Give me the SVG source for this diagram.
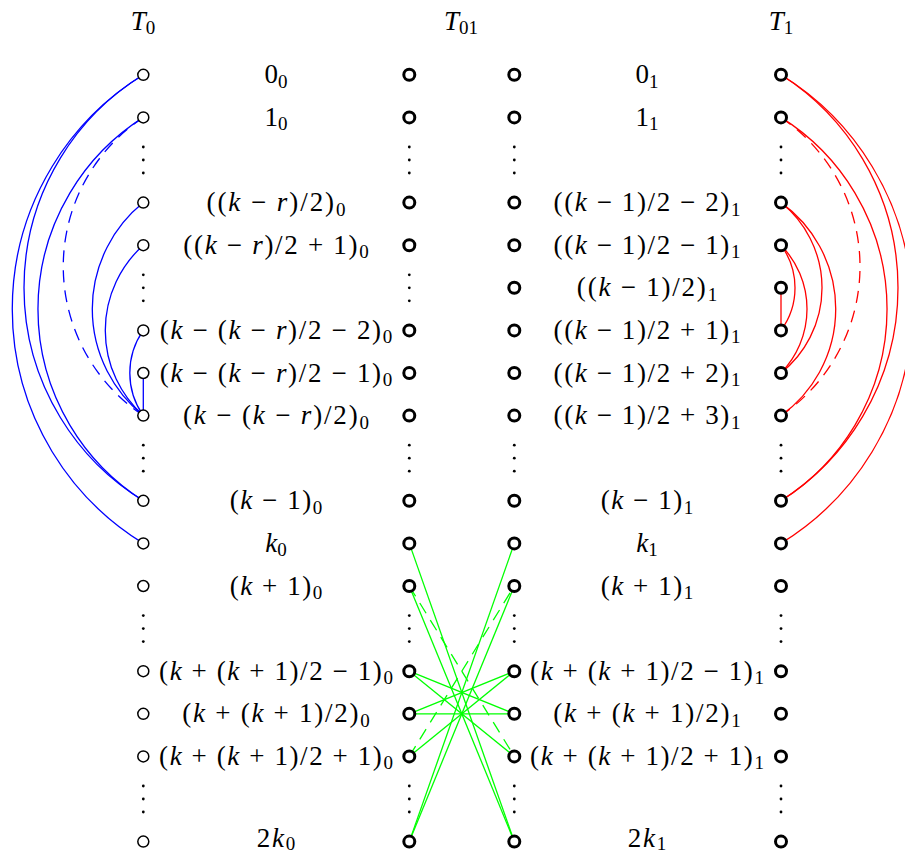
<svg xmlns="http://www.w3.org/2000/svg" width="905" height="854" viewBox="0 0 905 854">
<style>
text{font-family:"Liberation Serif","Times New Roman",serif;font-size:27px;fill:#000;text-anchor:middle}
.i{font-style:italic}
.s{font-size:19px;font-style:normal}
.c path{fill:none;stroke-width:1.3}
.b path{stroke:#0000ff}
.r path{stroke:#ff0000}
.g path{stroke:#00ff00}
.c path.d{stroke-dasharray:12 8}
.thin{fill:#fff;stroke:#000;stroke-width:1.5}
.thick{fill:#fff;stroke:#000;stroke-width:3}
.dot{fill:#000}
</style>
<defs>
<circle id="cthin" r="5.5" class="thin"/>
<circle id="cthick" r="5.5" class="thick"/>
<g id="vd"><circle cy="-13" r="1.4" class="dot"/><circle cy="0" r="1.4" class="dot"/><circle cy="13" r="1.4" class="dot"/></g>
</defs>

<g id="titles">
<text x="143" y="30"><tspan class="i">T</tspan><tspan class="s" dy="4">0</tspan></text>
<text x="461" y="30"><tspan class="i">T</tspan><tspan class="s" dy="4">01</tspan></text>
<text x="781" y="30"><tspan class="i">T</tspan><tspan class="s" dy="4">1</tspan></text>
</g>

<g id="connectors" class="c">
<g class="b">
<path d="M143.3,74.8 A275,275 0 0 0 143.3,543.4"/>
<path d="M143.3,74.8 A249.8,249.8 0 0 0 143.3,500.8"/>
<path d="M143.3,117.4 A227.1,227.1 0 0 0 143.3,500.8"/>
<path class="d" d="M143.3,117.4 A178.9,178.9 0 0 0 143.3,415.6"/>
<path d="M143.3,202.6 A136.7,136.7 0 0 0 143.3,415.6"/>
<path d="M143.3,245.2 A114.5,114.5 0 0 0 143.3,415.6"/>
<path d="M143.3,330.4 A74,74 0 0 0 143.3,415.6"/>
<path d="M143.3,373 L143.3,415.6"/>
</g>
<g class="r">
<path d="M781,74.8 A275,275 0 0 1 781,543.4"/>
<path d="M781,74.8 A252.4,252.4 0 0 1 781,500.8"/>
<path d="M781,117.4 A226.3,226.3 0 0 1 781,500.8"/>
<path class="d" d="M781,117.4 A180.2,180.2 0 0 1 781,415.6"/>
<path d="M781,202.6 A131,131 0 0 1 781,415.6"/>
<path d="M781,202.6 A109,109 0 0 1 781,373"/>
<path d="M781,245.2 A91.5,91.5 0 0 1 781,373"/>
<path d="M781,245.2 A71.8,71.8 0 0 1 781,330.4"/>
<path d="M781,287.8 L781,330.4"/>
</g>
<g class="g">
<path d="M409.3,543.4 L514.3,841.6"/>
<path d="M409.3,586 L514.3,841.6"/>
<path d="M409.3,671.2 L514.3,713.8"/>
<path d="M409.3,671.2 L514.3,756.4"/>
<path d="M409.3,713.8 L514.3,713.8"/>
<path d="M409.3,713.8 L514.3,671.2"/>
<path d="M409.3,756.4 L514.3,671.2"/>
<path d="M409.3,841.6 L514.3,543.4"/>
<path d="M409.3,841.6 L514.3,586"/>
<path class="d" d="M409.3,586 L514.3,756.4"/>
<path class="d" d="M409.3,756.4 L514.3,586"/>
</g>
</g>

<g id="dots">
<use href="#vd" x="143.3" y="160"/><use href="#vd" x="143.3" y="287.8"/><use href="#vd" x="143.3" y="458.2"/><use href="#vd" x="143.3" y="628.6"/><use href="#vd" x="143.3" y="799"/>
<use href="#vd" x="409.3" y="160"/><use href="#vd" x="409.3" y="287.8"/><use href="#vd" x="409.3" y="458.2"/><use href="#vd" x="409.3" y="628.6"/><use href="#vd" x="409.3" y="799"/>
<use href="#vd" x="514.3" y="160"/><use href="#vd" x="514.3" y="458.2"/><use href="#vd" x="514.3" y="628.6"/><use href="#vd" x="514.3" y="799"/>
<use href="#vd" x="781" y="160"/><use href="#vd" x="781" y="458.2"/><use href="#vd" x="781" y="628.6"/><use href="#vd" x="781" y="799"/>
</g>

<g id="T0-nodes">
<g id="a0"><use href="#cthin" x="143.3" y="74.8"/></g>
<g id="a1"><use href="#cthin" x="143.3" y="117.4"/></g>
<g id="a3"><use href="#cthin" x="143.3" y="202.6"/></g>
<g id="a4"><use href="#cthin" x="143.3" y="245.2"/></g>
<g id="a6"><use href="#cthin" x="143.3" y="330.4"/></g>
<g id="a7"><use href="#cthin" x="143.3" y="373"/></g>
<g id="a8"><use href="#cthin" x="143.3" y="415.6"/></g>
<g id="a10"><use href="#cthin" x="143.3" y="500.8"/></g>
<g id="a11"><use href="#cthin" x="143.3" y="543.4"/></g>
<g id="a12"><use href="#cthin" x="143.3" y="586"/></g>
<g id="a14"><use href="#cthin" x="143.3" y="671.2"/></g>
<g id="a15"><use href="#cthin" x="143.3" y="713.8"/></g>
<g id="a16"><use href="#cthin" x="143.3" y="756.4"/></g>
<g id="a18"><use href="#cthin" x="143.3" y="841.6"/></g>
</g>
<g id="T01-left-nodes">
<g id="b0"><use href="#cthick" x="409.3" y="74.8"/></g>
<g id="b1"><use href="#cthick" x="409.3" y="117.4"/></g>
<g id="b3"><use href="#cthick" x="409.3" y="202.6"/></g>
<g id="b4"><use href="#cthick" x="409.3" y="245.2"/></g>
<g id="b6"><use href="#cthick" x="409.3" y="330.4"/></g>
<g id="b7"><use href="#cthick" x="409.3" y="373"/></g>
<g id="b8"><use href="#cthick" x="409.3" y="415.6"/></g>
<g id="b10"><use href="#cthick" x="409.3" y="500.8"/></g>
<g id="b11"><use href="#cthick" x="409.3" y="543.4"/></g>
<g id="b12"><use href="#cthick" x="409.3" y="586"/></g>
<g id="b14"><use href="#cthick" x="409.3" y="671.2"/></g>
<g id="b15"><use href="#cthick" x="409.3" y="713.8"/></g>
<g id="b16"><use href="#cthick" x="409.3" y="756.4"/></g>
<g id="b18"><use href="#cthick" x="409.3" y="841.6"/></g>
</g>
<g id="T01-right-nodes">
<g id="c0"><use href="#cthick" x="514.3" y="74.8"/></g>
<g id="c1"><use href="#cthick" x="514.3" y="117.4"/></g>
<g id="c3"><use href="#cthick" x="514.3" y="202.6"/></g>
<g id="c4"><use href="#cthick" x="514.3" y="245.2"/></g>
<g id="c5"><use href="#cthick" x="514.3" y="287.8"/></g>
<g id="c6"><use href="#cthick" x="514.3" y="330.4"/></g>
<g id="c7"><use href="#cthick" x="514.3" y="373"/></g>
<g id="c8"><use href="#cthick" x="514.3" y="415.6"/></g>
<g id="c10"><use href="#cthick" x="514.3" y="500.8"/></g>
<g id="c11"><use href="#cthick" x="514.3" y="543.4"/></g>
<g id="c12"><use href="#cthick" x="514.3" y="586"/></g>
<g id="c14"><use href="#cthick" x="514.3" y="671.2"/></g>
<g id="c15"><use href="#cthick" x="514.3" y="713.8"/></g>
<g id="c16"><use href="#cthick" x="514.3" y="756.4"/></g>
<g id="c18"><use href="#cthick" x="514.3" y="841.6"/></g>
</g>
<g id="T1-nodes">
<g id="d0"><use href="#cthick" x="781" y="74.8"/></g>
<g id="d1"><use href="#cthick" x="781" y="117.4"/></g>
<g id="d3"><use href="#cthick" x="781" y="202.6"/></g>
<g id="d4"><use href="#cthick" x="781" y="245.2"/></g>
<g id="d5"><use href="#cthick" x="781" y="287.8"/></g>
<g id="d6"><use href="#cthick" x="781" y="330.4"/></g>
<g id="d7"><use href="#cthick" x="781" y="373"/></g>
<g id="d8"><use href="#cthick" x="781" y="415.6"/></g>
<g id="d10"><use href="#cthick" x="781" y="500.8"/></g>
<g id="d11"><use href="#cthick" x="781" y="543.4"/></g>
<g id="d12"><use href="#cthick" x="781" y="586"/></g>
<g id="d14"><use href="#cthick" x="781" y="671.2"/></g>
<g id="d15"><use href="#cthick" x="781" y="713.8"/></g>
<g id="d16"><use href="#cthick" x="781" y="756.4"/></g>
<g id="d18"><use href="#cthick" x="781" y="841.6"/></g>
</g>

<g id="labels-0">
<text x="276" y="83.3">0<tspan class="s" dy="4.5">0</tspan></text>
<text x="276" y="125.9">1<tspan class="s" dy="4.5">0</tspan></text>
<text x="276" y="211.1" textLength="139">((<tspan class="i">k</tspan> − <tspan class="i">r</tspan>)/2)<tspan class="s" dy="4.5">0</tspan></text>
<text x="276" y="253.7" textLength="185.5">((<tspan class="i">k</tspan> − <tspan class="i">r</tspan>)/2 + 1)<tspan class="s" dy="4.5">0</tspan></text>
<text x="276" y="338.9" textLength="232.6">(<tspan class="i">k</tspan> − (<tspan class="i">k</tspan> − <tspan class="i">r</tspan>)/2 − 2)<tspan class="s" dy="4.5">0</tspan></text>
<text x="276" y="381.5" textLength="232.6">(<tspan class="i">k</tspan> − (<tspan class="i">k</tspan> − <tspan class="i">r</tspan>)/2 − 1)<tspan class="s" dy="4.5">0</tspan></text>
<text x="276" y="424.1" textLength="186">(<tspan class="i">k</tspan> − (<tspan class="i">k</tspan> − <tspan class="i">r</tspan>)/2)<tspan class="s" dy="4.5">0</tspan></text>
<text x="276" y="509.3" textLength="92.3">(<tspan class="i">k</tspan> − 1)<tspan class="s" dy="4.5">0</tspan></text>
<text x="276" y="551.9"><tspan class="i">k</tspan><tspan class="s" dy="4.5">0</tspan></text>
<text x="276" y="594.5" textLength="92.3">(<tspan class="i">k</tspan> + 1)<tspan class="s" dy="4.5">0</tspan></text>
<text x="276" y="679.7" textLength="233.9">(<tspan class="i">k</tspan> + (<tspan class="i">k</tspan> + 1)/2 − 1)<tspan class="s" dy="4.5">0</tspan></text>
<text x="276" y="722.3" textLength="187.4">(<tspan class="i">k</tspan> + (<tspan class="i">k</tspan> + 1)/2)<tspan class="s" dy="4.5">0</tspan></text>
<text x="276" y="764.9" textLength="233.9">(<tspan class="i">k</tspan> + (<tspan class="i">k</tspan> + 1)/2 + 1)<tspan class="s" dy="4.5">0</tspan></text>
<text x="276" y="847" textLength="38.3">2<tspan class="i">k</tspan><tspan class="s" dy="2.5">0</tspan></text>
</g>
<g id="labels-1">
<text x="647" y="83.3">0<tspan class="s" dy="4.5">1</tspan></text>
<text x="647" y="125.9">1<tspan class="s" dy="4.5">1</tspan></text>
<text x="647" y="211.1" textLength="186.8">((<tspan class="i">k</tspan> − 1)/2 − 2)<tspan class="s" dy="4.5">1</tspan></text>
<text x="647" y="253.7" textLength="186.8">((<tspan class="i">k</tspan> − 1)/2 − 1)<tspan class="s" dy="4.5">1</tspan></text>
<text x="647" y="296.3" textLength="140.3">((<tspan class="i">k</tspan> − 1)/2)<tspan class="s" dy="4.5">1</tspan></text>
<text x="647" y="338.9" textLength="186.8">((<tspan class="i">k</tspan> − 1)/2 + 1)<tspan class="s" dy="4.5">1</tspan></text>
<text x="647" y="381.5" textLength="186.8">((<tspan class="i">k</tspan> − 1)/2 + 2)<tspan class="s" dy="4.5">1</tspan></text>
<text x="647" y="424.1" textLength="186.8">((<tspan class="i">k</tspan> − 1)/2 + 3)<tspan class="s" dy="4.5">1</tspan></text>
<text x="647" y="509.3" textLength="92.3">(<tspan class="i">k</tspan> − 1)<tspan class="s" dy="4.5">1</tspan></text>
<text x="647" y="551.9"><tspan class="i">k</tspan><tspan class="s" dy="4.5">1</tspan></text>
<text x="647" y="594.5" textLength="92.3">(<tspan class="i">k</tspan> + 1)<tspan class="s" dy="4.5">1</tspan></text>
<text x="647" y="679.7" textLength="233.9">(<tspan class="i">k</tspan> + (<tspan class="i">k</tspan> + 1)/2 − 1)<tspan class="s" dy="4.5">1</tspan></text>
<text x="647" y="722.3" textLength="187.4">(<tspan class="i">k</tspan> + (<tspan class="i">k</tspan> + 1)/2)<tspan class="s" dy="4.5">1</tspan></text>
<text x="647" y="764.9" textLength="233.9">(<tspan class="i">k</tspan> + (<tspan class="i">k</tspan> + 1)/2 + 1)<tspan class="s" dy="4.5">1</tspan></text>
<text x="647" y="847" textLength="38.3">2<tspan class="i">k</tspan><tspan class="s" dy="2.5">1</tspan></text>
</g>
</svg>
